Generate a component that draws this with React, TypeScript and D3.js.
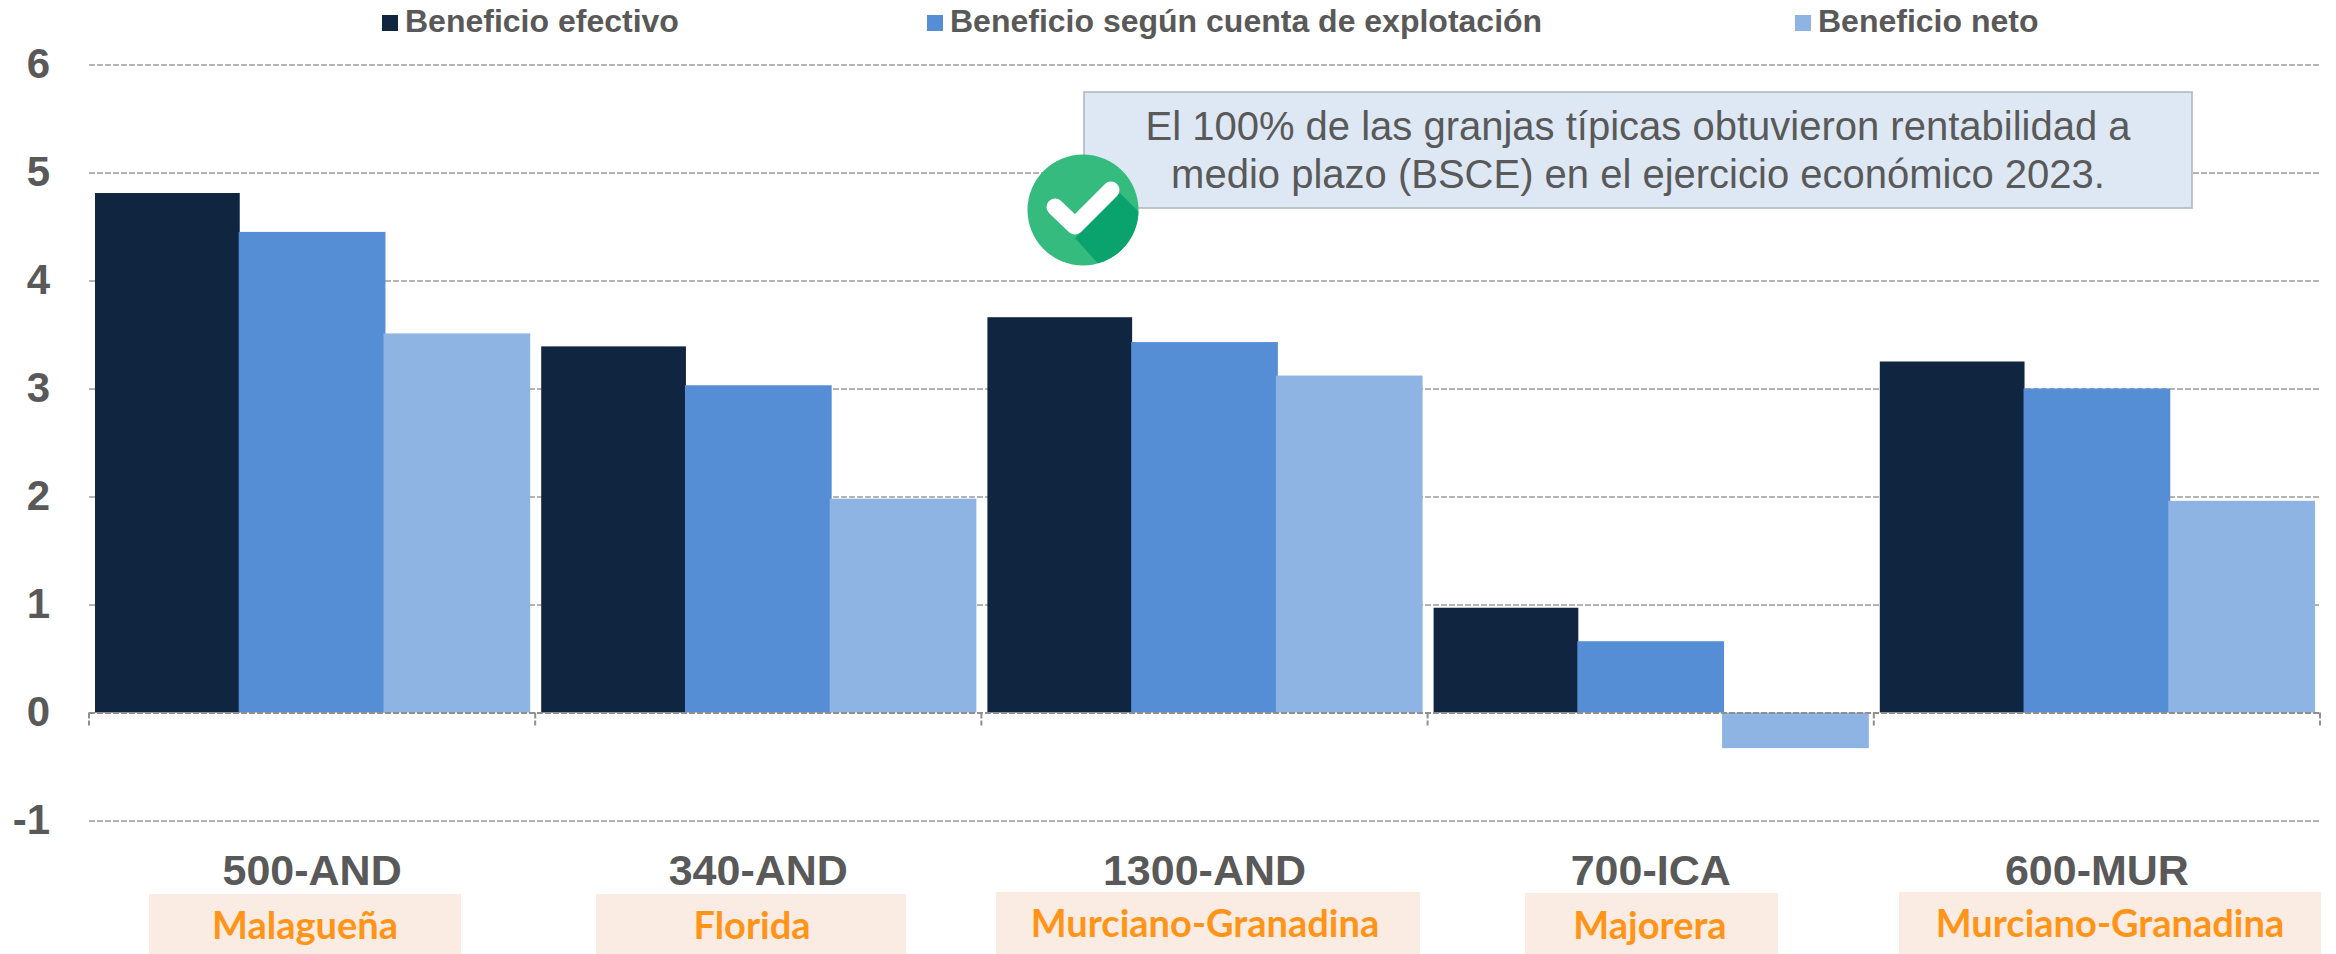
import * as d3 from "d3";
import { useRef, useEffect } from "react";

const farms = ["500-AND", "340-AND", "1300-AND", "700-ICA", "600-MUR"];
const breeds = ["Malagueña", "Florida", "Murciano-Granadina", "Majorera", "Murciano-Granadina"];
const seriesNames = ["Beneficio efectivo", "Beneficio según cuenta de explotación", "Beneficio neto"];
const efectivo = [4.81, 3.39, 3.66, 0.97, 3.25];
const explotacion = [4.45, 3.03, 3.43, 0.66, 3.0];
const neto = [3.51, 1.98, 3.12, -0.33, 1.96];
const yTicks = [-1, 0, 1, 2, 3, 4, 5, 6];
const noteLines = [
  "El 100% de las granjas típicas obtuvieron rentabilidad a",
  "medio plazo (BSCE) en el ejercicio económico 2023.",
];

const colors = ["#10253f", "#558ed5", "#8eb4e3"];
const gray = "#595959";
const sans = "'Liberation Sans', Arial, sans-serif";

// posiciones de la leyenda y de las cajas de raza
const legendX = [382, 927, 1795];
const breedBoxes = [
  { x0: 149, x1: 461, top: 894, cx: 305, base: 939 },
  { x0: 596, x1: 906, top: 894, cx: 752, base: 939 },
  { x0: 996, x1: 1420, top: 892, cx: 1205, base: 937 },
  { x0: 1525, x1: 1778, top: 893, cx: 1650, base: 939 },
  { x0: 1899, x1: 2321, top: 892, cx: 2110, base: 937 },
];

export default function App() {
  const chartRef = useRef<SVGSVGElement>(null);

  useEffect(() => {
    const svg = d3.select(chartRef.current);
    svg.selectAll("*").remove();

    const left = 89;
    const right = 2320;

    const scaleX = d3.scaleBand().domain(farms).range([left, right]);
    const scaleInner = d3
      .scaleBand()
      .domain(seriesNames)
      .range([6, scaleX.bandwidth() - 6]);
    const scaleY = d3.scaleLinear().domain([-1, 6]).range([820.5, 64.5]);

    // rejilla y etiquetas del eje Y
    const yAxis = d3
      .axisLeft(scaleY)
      .tickValues(yTicks)
      .tickSize(left - right)
      .tickPadding(0)
      .tickFormat((d) => String(d));
    const gy = svg.append("g").attr("transform", `translate(${right}, 0)`).call(yAxis);
    gy.select(".domain").remove();
    gy.selectAll("line")
      .attr("x1", left - right)
      .attr("x2", 0)
      .attr("stroke", "#b4b4b4")
      .attr("stroke-width", 2)
      .attr("stroke-dasharray", "6 2");
    gy.selectAll("text")
      .attr("x", 50 - right)
      .attr("y", -1.5)
      .attr("dy", "0.35em")
      .attr("text-anchor", "end")
      .attr("fill", gray)
      .style("font", `bold 42px ${sans}`);

    // barras (un poco solapadas, como en el original)
    const allSeries = [efectivo, explotacion, neto];
    allSeries.forEach((values, s) => {
      svg
        .append("g")
        .selectAll("rect")
        .data(values)
        .enter()
        .append("rect")
        .attr("x", (d, i) => scaleX(farms[i]) + scaleInner(seriesNames[s]) - (s > 0 ? 1 : 0))
        .attr("y", (d) => scaleY(Math.max(d, 0)))
        .attr("width", scaleInner.bandwidth() + (s > 0 ? 2 : 0))
        .attr("height", (d) => Math.abs(scaleY(d) - scaleY(0)))
        .attr("fill", colors[s]);
    });

    // eje en cero con marcas punteadas entre categorías
    const zero = scaleY(0);
    const edges = [...farms.map((f) => scaleX(f)), right];
    const axisG = svg.append("g");
    axisG
      .append("line")
      .attr("x1", left)
      .attr("x2", right)
      .attr("y1", zero + 0.5)
      .attr("y2", zero + 0.5)
      .attr("stroke", "#8f8f8f")
      .attr("stroke-width", 2)
      .attr("stroke-dasharray", "6 2");
    axisG
      .selectAll(".edge")
      .data(edges)
      .enter()
      .append("line")
      .attr("class", "edge")
      .attr("x1", (d) => d)
      .attr("x2", (d) => d)
      .attr("y1", zero)
      .attr("y2", zero + 13)
      .attr("stroke", "#8f8f8f")
      .attr("stroke-width", 2)
      .attr("stroke-dasharray", "6 2");

    // etiquetas de granja
    const xAxis = d3.axisBottom(scaleX).tickSize(0).tickPadding(0);
    const gx = svg.append("g").attr("transform", "translate(0, 885)").call(xAxis);
    gx.select(".domain").remove();
    gx.selectAll("text")
      .attr("y", 0)
      .attr("dy", 0)
      .attr("fill", gray)
      .style("font", `bold 43px ${sans}`);

    // cajas de raza
    const breedG = svg.append("g");
    breedG
      .selectAll("rect")
      .data(breedBoxes)
      .enter()
      .append("rect")
      .attr("x", (d) => d.x0)
      .attr("y", (d) => d.top)
      .attr("width", (d) => d.x1 - d.x0)
      .attr("height", (d) => 954 - d.top)
      .attr("fill", "#fbece3");
    breedG
      .selectAll("text")
      .data(breedBoxes)
      .enter()
      .append("text")
      .attr("x", (d) => d.cx)
      .attr("y", (d) => d.base)
      .attr("text-anchor", "middle")
      .attr("fill", "#ff9419")
      .style("font", "bold 38px Lato, sans-serif")
      .text((d, i) => breeds[i]);

    // leyenda
    const legend = svg
      .append("g")
      .selectAll("g")
      .data(seriesNames)
      .enter()
      .append("g")
      .attr("transform", (d, i) => `translate(${legendX[i]}, 0)`);
    legend
      .append("rect")
      .attr("y", 15)
      .attr("width", 16)
      .attr("height", 16)
      .attr("fill", (d, i) => colors[i]);
    legend
      .append("text")
      .attr("x", 23)
      .attr("y", 32)
      .attr("fill", gray)
      .style("font", `bold 32px ${sans}`)
      .text((d) => d);

    // nota
    svg
      .append("rect")
      .attr("x", 1084)
      .attr("y", 92)
      .attr("width", 1108)
      .attr("height", 116)
      .attr("fill", "#dde8f4")
      .attr("stroke", "#adb4bb")
      .attr("stroke-width", 1.5);
    svg
      .append("g")
      .selectAll("text")
      .data(noteLines)
      .enter()
      .append("text")
      .attr("x", 1638)
      .attr("y", (d, i) => 140 + i * 48)
      .attr("text-anchor", "middle")
      .attr("fill", gray)
      .style("font", `40px ${sans}`)
      .text((d) => d);

    // icono de verificación
    const badge = svg.append("g").attr("transform", "translate(1083, 210)");
    const clip = svg.append("defs").append("clipPath").attr("id", "badge-clip");
    clip.append("circle").attr("r", 55.5);
    badge.append("circle").attr("r", 55.5).attr("fill", "#36bb7e");
    badge
      .append("path")
      .attr("clip-path", "url(#badge-clip)")
      .attr("d", "M37,-17 L70,16 L70,70 L28,68 L-8,28 Z")
      .attr("fill", "#0aa36d");
    badge
      .append("path")
      .attr("d", d3.line()([[-28, -3], [-8, 16], [28, -20]]))
      .attr("fill", "none")
      .attr("stroke", "#fff")
      .attr("stroke-width", 17)
      .attr("stroke-linecap", "round")
      .attr("stroke-linejoin", "round");
  }, []);

  return (
    <svg
      ref={chartRef}
      width={2336}
      height={954}
      style={{ position: "absolute", left: 0, top: 0, background: "#fff" }}
    ></svg>
  );
}
